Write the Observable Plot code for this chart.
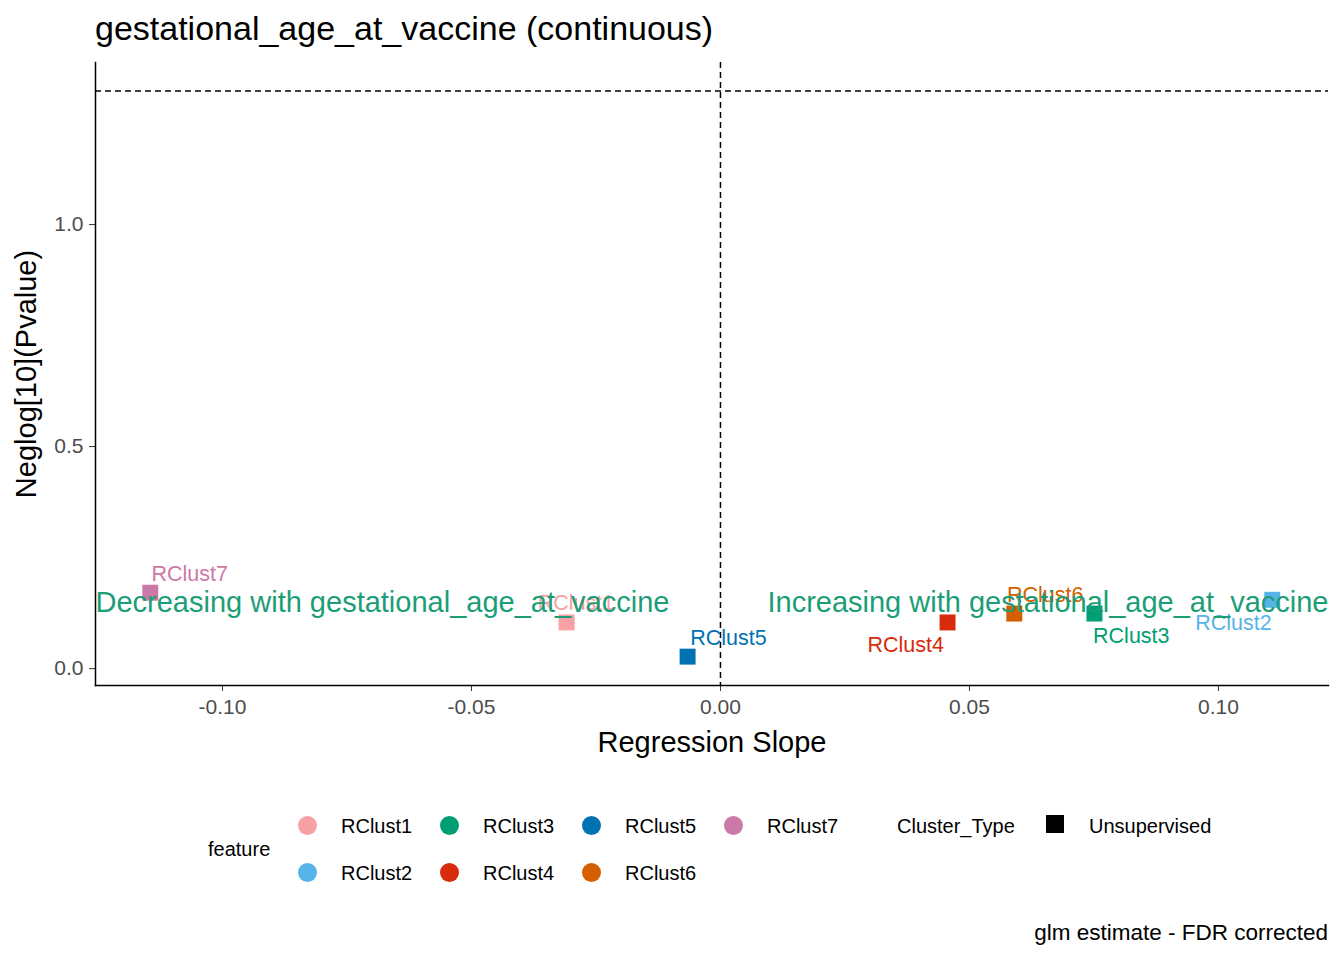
<!DOCTYPE html>
<html><head><meta charset="utf-8">
<script src="https://cdn.jsdelivr.net/npm/d3@7"></script>
<script src="https://cdn.jsdelivr.net/npm/@observablehq/plot@0.6"></script>
<style>
body{margin:0;background:#fff;font-family:"Liberation Sans",Arial,sans-serif;width:1344px;height:960px;position:relative;overflow:hidden}
#title{position:absolute;left:95px;top:9px;font-size:34px;color:#000}
#chart{position:absolute;left:0;top:60px}
.lg{position:absolute;font-size:20px;color:#000}
.dot{position:absolute;width:19px;height:19px;border-radius:50%}
#cap{position:absolute;right:16px;top:920px;font-size:22.5px}
</style></head><body>
<div id="title">gestational_age_at_vaccine (continuous)</div>
<div id="chart"></div>
<div id="legend"></div>
<div id="cap">glm estimate - FDR corrected</div>
<script>
const features = ["RClust1","RClust2","RClust3","RClust4","RClust5","RClust6","RClust7"];
const slopes   = [-0.0309, 0.1108, 0.0751, 0.0456, -0.0066, 0.0590, -0.1145];
const neglogP  = [0.104, 0.155, 0.124, 0.104, 0.027, 0.124, 0.171];
const labelX   = [-0.0290, 0.1030, 0.0825, 0.0372, 0.0016, 0.0652, -0.1066];
const labelY   = [0.148, 0.103, 0.073, 0.052, 0.068, 0.165, 0.212];
const colors   = ["#F8A1A4","#56B4E9","#009E73","#D82A0C","#0072B2","#D55E00","#CC79A7"];
const xTicks = [-0.10,-0.05,0.00,0.05,0.10];
const yTicks = [0.0,0.5,1.0];
const threshold = 1.3010;
const annoY = 0.149;
const xDomain = [-0.1255, 0.1221];
const yDomain = [-0.038, 1.365];

const data = features.map((f,i)=>({feature:f,x:slopes[i],y:neglogP[i],lx:labelX[i],ly:labelY[i]}));
const fmtX = d=>d3.format(".2f")(d).replace("−","-");

const plot = Plot.plot({
  width:1344, height:700, marginTop:2, marginLeft:95, marginRight:16, marginBottom:75,
  style:{fontFamily:"Liberation Sans, Arial, sans-serif", background:"#fff"},
  x:{domain:xDomain},
  y:{domain:yDomain},
  color:{domain:features, range:colors},
  marks:[
    Plot.ruleY([threshold],{stroke:"#000",strokeDasharray:"6,4",strokeWidth:1.5}),
    Plot.ruleX([0],{stroke:"#000",strokeDasharray:"6,4",strokeWidth:1.5}),
    Plot.dot(data,{x:"x",y:"y",fill:"feature",symbol:"square",r:9,stroke:null}),
    Plot.text(data,{x:"lx",y:"ly",text:"feature",fill:"feature",fontSize:21.5}),
    Plot.text(["Decreasing with gestational_age_at_vaccine"],{x:xDomain[0],y:annoY,text:d=>d,textAnchor:"start",fill:"#1B9E77",fontSize:29}),
    Plot.text(["Increasing with gestational_age_at_vaccine"],{x:xDomain[1],y:annoY,text:d=>d,textAnchor:"end",fill:"#1B9E77",fontSize:29}),
    Plot.axisX({ticks:xTicks,tickFormat:fmtX,fontSize:21,color:"#4d4d4d",stroke:"#333",tickSize:6,tickPadding:8,label:null}),
    Plot.axisY({ticks:yTicks,tickFormat:d=>d3.format(".1f")(d),fontSize:21,color:"#4d4d4d",stroke:"#333",tickSize:6,tickPadding:6,label:null}),
    Plot.axisX({ticks:[],label:"Regression Slope",labelAnchor:"center",labelArrow:"none",labelOffset:66,fontSize:29,color:"#000"}),
    Plot.axisY({ticks:[],label:"Neglog[10](Pvalue)",labelAnchor:"center",labelArrow:"none",labelOffset:80,fontSize:29,color:"#000"}),
    Plot.frame({anchor:"left",stroke:"#000",strokeWidth:1.5}),
    Plot.frame({anchor:"bottom",stroke:"#000",strokeWidth:1.5})
  ]
});
document.getElementById("chart").appendChild(plot);

const lg = document.getElementById("legend");
const add=(html)=>{lg.insertAdjacentHTML("beforeend",html);};
add(`<div class="lg" style="left:208px;top:838px">feature</div>`);
const order=["RClust1","RClust3","RClust5","RClust7","RClust2","RClust4","RClust6"];
order.forEach((f,k)=>{
  const col=k<4?k:k-4, row=k<4?0:1;
  const x=298+col*142, y=815+row*47;
  add(`<div class="dot" style="left:${x}px;top:${y+1}px;background:${colors[features.indexOf(f)]}"></div>`);
  add(`<div class="lg" style="left:${x+43}px;top:${y}px">${f}</div>`);
});
add(`<div class="lg" style="left:897px;top:815px">Cluster_Type</div>`);
add(`<div style="position:absolute;left:1046px;top:815px;width:18px;height:18px;background:#000"></div>`);
add(`<div class="lg" style="left:1089px;top:815px">Unsupervised</div>`);
</script>
</body></html>
